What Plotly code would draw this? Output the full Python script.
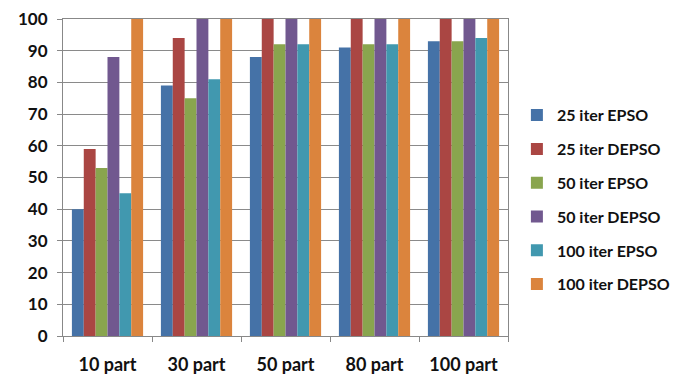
import plotly.graph_objects as go

categories = ["10 part", "30 part", "50 part", "80 part", "100 part"]
series_names = ["25 iter EPSO", "25 iter DEPSO", "50 iter EPSO", "50 iter DEPSO", "100 iter EPSO", "100 iter DEPSO"]
epso25 = [40, 79, 88, 91, 93]
depso25 = [59, 94, 100, 100, 100]
epso50 = [53, 75, 92, 92, 93]
depso50 = [88, 100, 100, 100, 100]
epso100 = [45, 81, 92, 92, 94]
depso100 = [100, 100, 100, 100, 100]
y_ticks = list(range(0, 101, 10))

series_values = [epso25, depso25, epso50, depso50, epso100, depso100]
colors = ["#4572A7", "#AA4643", "#89A54E", "#71588F", "#4198AF", "#DB843D"]

fig = go.Figure()
for name, vals, col in zip(series_names, series_values, colors):
    fig.add_trace(go.Bar(x=categories, y=vals, name=name, marker_color=col,
                         marker_line_width=0, legendgroup=name))

font_family = "Lato, 'Open Sans', sans-serif"
fig.update_layout(
    width=684, height=370,
    margin=dict(l=55, r=184, t=11, b=42, autoexpand=False),
    plot_bgcolor="white", paper_bgcolor="white",
    barmode="group", bargap=0.2, bargroupgap=0,
    font=dict(family=font_family, color="#111111"),
    legend=dict(x=1.02, y=0.43, xanchor="left", yanchor="middle",
                font=dict(size=16, family=font_family, weight="bold"),
                tracegroupgap=10, bgcolor="rgba(0,0,0,0)"),
    showlegend=True,
)
fig.update_xaxes(
    showline=True, linecolor="#888888", linewidth=1, mirror=True,
    ticks="outside", tickson="boundaries", ticklen=5, tickcolor="#888888",
    tickfont=dict(size=18, family=font_family, weight="bold"),
    ticklabelstandoff=12, automargin=False, ticklabeloverflow="allow",
    showgrid=False,
)
fig.update_yaxes(
    range=[0, 100], tickvals=y_ticks,
    showline=True, linecolor="#888888", linewidth=1, mirror=True,
    ticks="outside", ticklen=5, tickcolor="#888888",
    showgrid=True, gridcolor="#8a8a8a", gridwidth=1,
    tickfont=dict(size=17, family=font_family, weight="bold"),
    ticklabelstandoff=6, automargin=False, ticklabeloverflow="allow",
    zeroline=False,
)
fig.write_html("out.html")
